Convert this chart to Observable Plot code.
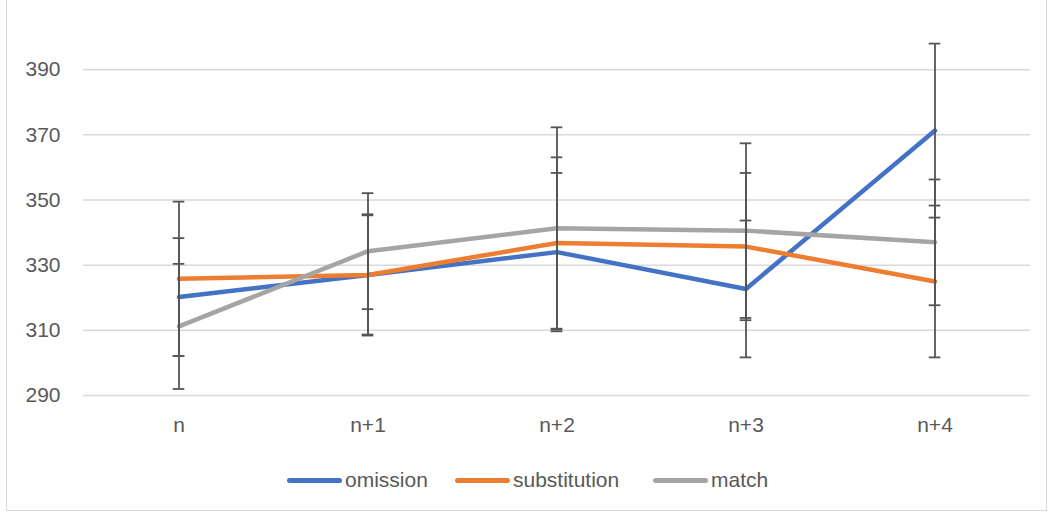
<!DOCTYPE html>
<html>
<head>
<meta charset="utf-8">
<script src="https://cdn.jsdelivr.net/npm/d3@7"></script>
<script src="https://cdn.jsdelivr.net/npm/@observablehq/plot@0.6"></script>
<style>
  body { margin: 0; background: #fff; font-family: "Liberation Sans", Arial, sans-serif; }
  #frame { position: absolute; left: 6px; top: -1px; width: 1039px; height: 510px; border: 1px solid #d9d9d9; }
  #chart { position: absolute; left: 0; top: 0; }
  #legend { position: absolute; top: 468px; left: 0; width: 1052px; height: 26px; }
  .item { position: absolute; top: 0; display: flex; align-items: center; font-size: 21px; color: #595959; }
  .sw { width: 55px; height: 5px; border-radius: 3px; margin-right: 3px; }
</style>
</head>
<body>
<div id="frame"></div>
<div id="chart"></div>
<div id="legend"></div>
<script>
const categories = ["n", "n+1", "n+2", "n+3", "n+4"];
const seriesNames = ["omission", "substitution", "match"];
const colors = ["#4472C4", "#ED7D31", "#A5A5A5"];
const omission = [320.2, 327.0, 334.0, 322.7, 371.3];
const substitution = [325.8, 327.0, 336.8, 335.7, 325.0];
const match = [311.2, 334.3, 341.3, 340.6, 337.0];
const omissionErr = [18.1, 18.6, 24.3, 21.0, 26.7];
const substitutionErr = [23.7, 18.3, 26.3, 22.6, 23.3];
const matchErr = [19.2, 17.8, 31.0, 26.8, 19.3];
const yTicks = [290, 310, 330, 350, 370, 390];

const values = [omission, substitution, match];
const errs = [omissionErr, substitutionErr, matchErr];
const data = [];
seriesNames.forEach((s, i) => {
  categories.forEach((c, j) => {
    data.push({series: s, cat: c, value: values[i][j], lo: values[i][j] - errs[i][j], hi: values[i][j] + errs[i][j]});
  });
});

const W = 1052, ML = 83, MR = 22;
const bw = (W - ML - MR) / categories.length;
const capInset = bw / 2 - 6;

const chart = Plot.plot({
  width: W,
  height: 455,
  marginLeft: ML,
  marginRight: MR,
  marginTop: 4,
  marginBottom: 60,
  style: {fontFamily: "Liberation Sans, Arial, sans-serif", fontSize: "21px", color: "#595959", background: "transparent"},
  x: {type: "band", domain: categories, padding: 0, label: null, tickSize: 0, tickPadding: 22},
  y: {domain: [290, 410], ticks: yTicks, label: null, tickSize: 0, tickPadding: 23},
  color: {domain: seriesNames, range: colors},
  marks: [
    Plot.gridY(yTicks, {stroke: "#d9d9d9", strokeOpacity: 1, strokeWidth: 1.5}),
    Plot.line(data, {x: "cat", y: "value", z: "series", stroke: "series", strokeWidth: 4.5, strokeLinejoin: "round", strokeLinecap: "round"}),
    Plot.ruleX(data, {x: "cat", y1: "lo", y2: "hi", stroke: "#555555", strokeWidth: 1.8}),
    Plot.tickY(data, {x: "cat", y: "lo", stroke: "#555555", strokeWidth: 1.8, insetLeft: capInset, insetRight: capInset}),
    Plot.tickY(data, {x: "cat", y: "hi", stroke: "#555555", strokeWidth: 1.8, insetLeft: capInset, insetRight: capInset})
  ]
});
document.getElementById("chart").appendChild(chart);

const legendPos = [287, 455, 653];
const legend = document.getElementById("legend");
seriesNames.forEach((s, i) => {
  const item = document.createElement("div");
  item.className = "item";
  item.style.left = legendPos[i] + "px";
  const sw = document.createElement("div");
  sw.className = "sw";
  sw.style.background = colors[i];
  const label = document.createElement("span");
  label.textContent = s;
  item.appendChild(sw);
  item.appendChild(label);
  legend.appendChild(item);
});
</script>
</body>
</html>
